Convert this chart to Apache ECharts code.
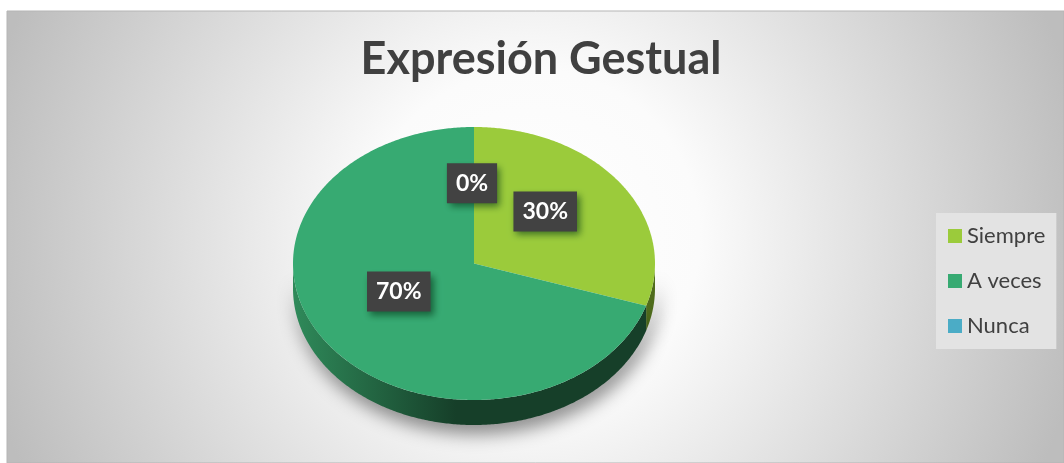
<!DOCTYPE html>
<html>
<head>
<meta charset="utf-8">
<script src="https://cdn.jsdelivr.net/npm/echarts@6/dist/echarts.min.js"></script>
<style>
  html, body { margin: 0; padding: 0; background: #fff; }
  #grafico { width: 1064px; height: 463px; }
</style>
</head>
<body>
<div id="grafico"></div>
<script>
const categorias = ['Siempre', 'A veces', 'Nunca'];
const valores = [30, 70, 0];
const coloresCara = ['#9BCB3B', '#37AA72', '#4BACC6'];
const coloresLado = [['#6f9427', '#4f6c1c'], ['#2f8a5a', '#163f29'], ['#3a8ea6', '#23606f']];

// geometria del pastel "3D"
const cx = 474, cy = 263.5, rx = 181, ry = 136.5, alto = 25;

const total = valores.reduce((a, b) => a + b, 0);

function punto(t, dy) {
  // t: angulo desde las 12 en sentido horario
  return [cx + rx * Math.sin(t), cy - ry * Math.cos(t) + (dy || 0)];
}

function arco(a, b, dy) {
  const pts = [];
  const n = Math.max(2, Math.ceil((b - a) / 0.01));
  for (let i = 0; i <= n; i++) pts.push(punto(a + (b - a) * i / n, dy));
  return pts;
}

function dibujar(k) {
  return function (params, api) {
    let antes = 0;
    for (let i = 0; i < k; i++) antes += valores[i];
    const ini = antes / total * Math.PI * 2;
    const fin = (antes + api.value(0)) / total * Math.PI * 2;
    const hijos = [];

    // lado frontal
    const a = Math.max(ini, Math.PI / 2), b = Math.min(fin, Math.PI * 1.5);
    if (b > a) {
      const sup = arco(a, b, 0);
      const inf = arco(a, b, alto).reverse();
      hijos.push({
        type: 'polygon',
        shape: { points: sup.concat(inf) },
        style: {
          fill: new echarts.graphic.LinearGradient(cx - rx, 0, cx + rx, 0, [
            { offset: 0, color: coloresLado[k][0] },
            { offset: 0.45, color: coloresLado[k][1] },
            { offset: 1, color: coloresLado[k][1] }
          ], true),
          shadowBlur: 18,
          shadowColor: 'rgba(0,0,0,0.45)',
          shadowOffsetX: 3,
          shadowOffsetY: 9
        }
      });
    }

    // cara superior
    if (fin > ini) {
      hijos.push({
        type: 'polygon',
        shape: { points: [[cx, cy]].concat(arco(ini, fin, 0)) },
        style: { fill: coloresCara[k] }
      });
    }

    // etiqueta
    const medio = (ini + fin) / 2;
    const f = 0.5;
    const pct = Math.round(api.value(0) / total * 100) + '%';
    hijos.push({
      type: 'text',
      x: cx + rx * f * Math.sin(medio) - 2,
      y: cy - ry * f * Math.cos(medio) - 12,
      z2: 100,
      style: {
        text: pct,
        fill: '#ffffff',
        fontFamily: 'Lato',
        fontWeight: 'bold',
        fontSize: 23,
        align: 'center',
        verticalAlign: 'middle',
        backgroundColor: '#424242',
        padding: [9, 9, 8, 9],
        shadowBlur: 7,
        shadowColor: 'rgba(0,50,20,0.6)',
        shadowOffsetX: 3,
        shadowOffsetY: 4
      }
    });
    return { type: 'group', children: hijos };
  };
}

const chart = echarts.init(document.getElementById('grafico'));
chart.setOption({
  animation: false,
  graphic: [
    {
      type: 'rect',
      shape: { x: 7, y: 11, width: 1057, height: 452 },
      style: {
        fill: new echarts.graphic.RadialGradient(532, 237, 560, [
          { offset: 0, color: '#ffffff' },
          { offset: 0.3, color: '#fbfbfb' },
          { offset: 1, color: '#bdbdbd' }
        ], true),
        stroke: '#b5b5b5',
        lineWidth: 1
      },
      z: -10,
      silent: true
    }
  ],
  title: {
    text: 'Expresión Gestual',
    left: 536,
    textAlign: 'center',
    top: 32,
    textStyle: { fontFamily: 'Lato', fontWeight: 'bold', fontSize: 45, color: '#404040' }
  },
  legend: {
    orient: 'vertical',
    left: 936,
    top: 213,
    padding: [12, 11, 12, 12],
    backgroundColor: '#e3e3e3',
    itemWidth: 14,
    itemHeight: 14,
    itemGap: 23,
    icon: 'rect',
    textStyle: { fontFamily: 'Lato', fontSize: 22, color: '#404040', lineHeight: 22 },
    data: categorias
  },
  series: categorias.map((nombre, k) => ({
    name: nombre,
    type: 'custom',
    coordinateSystem: 'none',
    itemStyle: { color: coloresCara[k] },
    data: [[valores[k]]],
    renderItem: dibujar(k)
  }))
});
</script>
</body>
</html>
